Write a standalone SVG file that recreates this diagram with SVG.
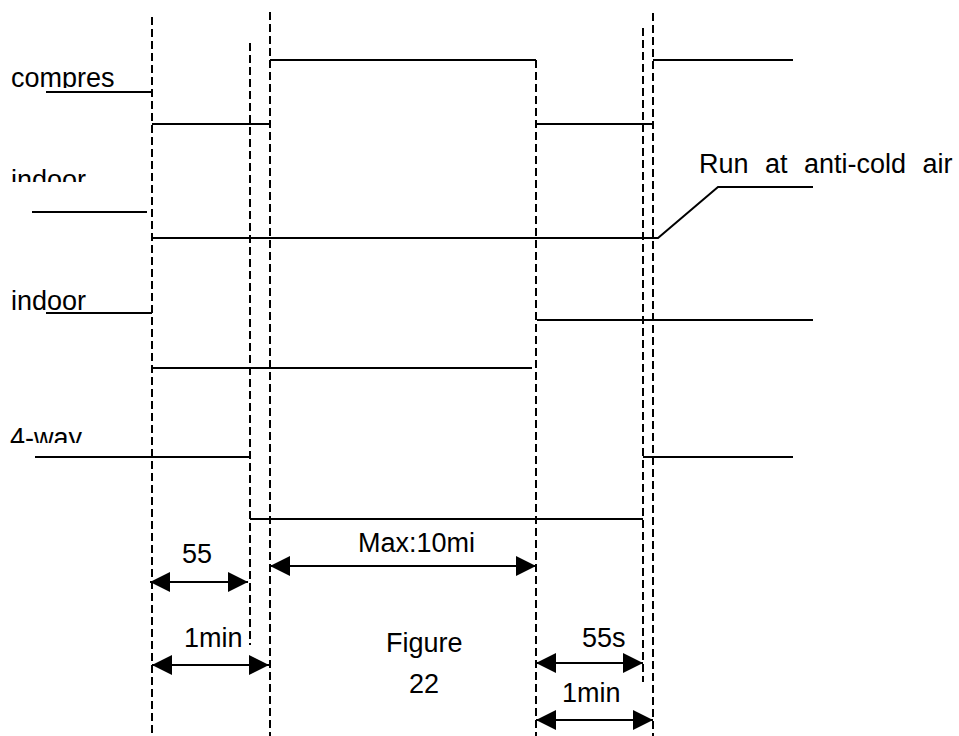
<svg xmlns="http://www.w3.org/2000/svg" width="959" height="736" viewBox="0 0 959 736">
<style>
text{font-family:"Liberation Sans",Arial,sans-serif;font-size:27px;fill:#000}
.d{stroke:#000;stroke-width:2;stroke-dasharray:8 4;fill:none}
.s{stroke:#000;stroke-width:2;fill:none}
.a{stroke:#000;stroke-width:2;fill:none;marker-start:url(#ah);marker-end:url(#ah)}
</style>
<defs>
<marker id="ah" markerUnits="userSpaceOnUse" markerWidth="20" markerHeight="20" refX="20" refY="10" orient="auto-start-reverse">
<path d="M0,0 L20,10 L0,20 z" fill="#000"/>
</marker>
<clipPath id="c1"><rect x="0" y="0" width="150" height="88"/></clipPath>
<clipPath id="c2"><rect x="0" y="150" width="150" height="32"/></clipPath>
<clipPath id="c3"><rect x="0" y="410" width="150" height="33"/></clipPath>
</defs>
<rect width="959" height="736" fill="#fff"/>
<g id="labels">
<text x="11" y="87" clip-path="url(#c1)">compres</text>
<text x="11" y="189" clip-path="url(#c2)">indoor</text>
<text x="11" y="310">indoor</text>
<text x="10" y="447" clip-path="url(#c3)">4-way</text>
<text x="699" y="173" word-spacing="9">Run at anti-cold air</text>
</g>
<g id="guides">
<line class="d" x1="152" y1="17" x2="152" y2="736"/>
<line class="d" x1="250" y1="43" x2="250" y2="645"/>
<line class="d" x1="270" y1="12" x2="270" y2="736"/>
<line class="d" x1="536" y1="60" x2="536" y2="736"/>
<line class="d" x1="643" y1="28" x2="643" y2="682"/>
<line class="d" x1="653" y1="13" x2="653" y2="736"/>
</g>
<g id="compressor">
<polyline class="s" points="46,92 152,92"/>
<polyline class="s" points="152,124 270,124"/>
<polyline class="s" points="270,60 536,60"/>
<polyline class="s" points="536,124 653,124"/>
<polyline class="s" points="653,60 793,60"/>
</g>
<g id="indoor-fan">
<polyline class="s" points="32,212 147,212"/>
<polyline class="s" points="152,238 658,238 718,187 813,187"/>
</g>
<g id="indoor-valve">
<polyline class="s" points="46,313 152,313"/>
<polyline class="s" points="152,368 532,368"/>
<polyline class="s" points="537,320 813,320"/>
</g>
<g id="four-way">
<polyline class="s" points="35,457 250,457"/>
<polyline class="s" points="250,519 643,519"/>
<polyline class="s" points="643,457 793,457"/>
</g>
<g id="connectors">
<line class="a" x1="150" y1="582" x2="248" y2="582"/>
<line class="a" x1="270" y1="566" x2="536" y2="566"/>
<line class="a" x1="152" y1="665" x2="269" y2="665"/>
<line class="a" x1="536" y1="663" x2="643" y2="663"/>
<line class="a" x1="536" y1="720" x2="653" y2="720"/>
</g>
<g id="dim-labels">
<text x="182" y="563">55</text>
<text x="358" y="552">Max:10mi</text>
<text x="184" y="647">1min</text>
<text x="386" y="652">Figure</text>
<text x="409" y="693">22</text>
<text x="582" y="647">55s</text>
<text x="562" y="702">1min</text>
</g>
</svg>
